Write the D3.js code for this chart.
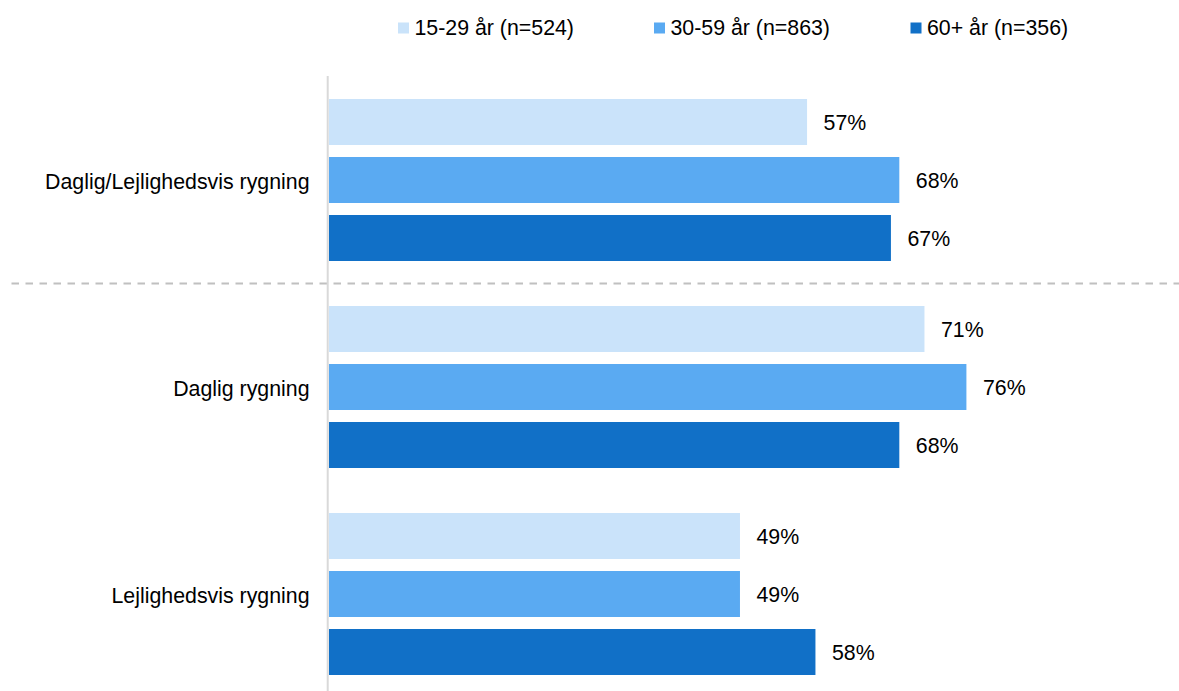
<!DOCTYPE html>
<html>
<head>
<meta charset="utf-8">
<script src="https://cdn.jsdelivr.net/npm/d3@7"></script>
<style>
  html, body { margin: 0; padding: 0; background: #fff; }
  svg { display: block; font-family: Arial, "Liberation Sans", sans-serif; }
</style>
</head>
<body>
<svg id="chart" width="1179" height="691"></svg>
<script>
// ---- Data ----
const categories = ["Daglig/Lejlighedsvis rygning", "Daglig rygning", "Lejlighedsvis rygning"];
const seriesNames = ["15-29 år (n=524)", "30-59 år (n=863)", "60+ år (n=356)"];
const values15to29 = [57, 71, 49];
const values30to59 = [68, 76, 49];
const values60plus = [67, 68, 58];
const seriesColors = ["#CAE3FA", "#5AAAF2", "#1170C7"];

const seriesValues = [values15to29, values30to59, values60plus];
const rows = [];
categories.forEach((c, ci) => {
  seriesNames.forEach((s, si) => {
    rows.push({ category: c, series: s, value: seriesValues[si][ci], si });
  });
});

// ---- Layout ----
const svg = d3.select("#chart");
const fontSize = "21.33px";

const x = d3.scaleLinear().domain([0, 100]).range([329, 329 + 838.7]);
const y0 = d3.scaleBand().domain(categories).range([99, 675]).paddingInner(0.2174).paddingOuter(0);
const y1 = d3.scaleBand().domain(seriesNames).range([0, y0.bandwidth()]).paddingInner(0.2069).paddingOuter(0);
const color = d3.scaleOrdinal().domain(seriesNames).range(seriesColors);

// dashed separator between first and second group
const sepY = (y0(categories[0]) + y0.bandwidth() + y0(categories[1])) / 2;
svg.append("line")
  .attr("x1", 11.5).attr("x2", 1179)
  .attr("y1", sepY).attr("y2", sepY)
  .attr("stroke", "#c0c0c0").attr("stroke-width", 2)
  .attr("stroke-dasharray", "7.5,6.5");

// vertical axis line
svg.append("line")
  .attr("x1", 327.7).attr("x2", 327.7)
  .attr("y1", 76).attr("y2", 691)
  .attr("stroke", "#d9d9d9").attr("stroke-width", 2);

// bars
svg.append("g").selectAll("rect").data(rows).join("rect")
  .attr("x", x(0))
  .attr("y", d => y0(d.category) + y1(d.series))
  .attr("width", d => x(d.value) - x(0))
  .attr("height", y1.bandwidth())
  .attr("fill", d => color(d.series));

// value labels
svg.append("g").selectAll("text").data(rows).join("text")
  .attr("x", d => x(d.value) + 16.5)
  .attr("y", d => y0(d.category) + y1(d.series) + y1.bandwidth() / 2)
  .attr("dy", "0.38em")
  .attr("font-size", fontSize)
  .attr("fill", "#000")
  .text(d => d.value + "%");

// category labels
svg.append("g").selectAll("text").data(categories).join("text")
  .attr("x", 309.5)
  .attr("y", d => y0(d) + y0.bandwidth() / 2)
  .attr("dy", "0.43em")
  .attr("text-anchor", "end")
  .attr("font-size", fontSize)
  .attr("fill", "#000")
  .text(d => d);

// legend
const legendX = [398, 654, 910.5];
const legend = svg.append("g").selectAll("g").data(seriesNames).join("g")
  .attr("transform", (d, i) => `translate(${legendX[i]},0)`);
legend.append("rect")
  .attr("x", 0).attr("y", 22.5)
  .attr("width", 11).attr("height", 11)
  .attr("fill", d => color(d));
legend.append("text")
  .attr("x", 16.5).attr("y", 35)
  .attr("font-size", fontSize)
  .attr("fill", "#000")
  .text(d => d);
</script>
</body>
</html>
